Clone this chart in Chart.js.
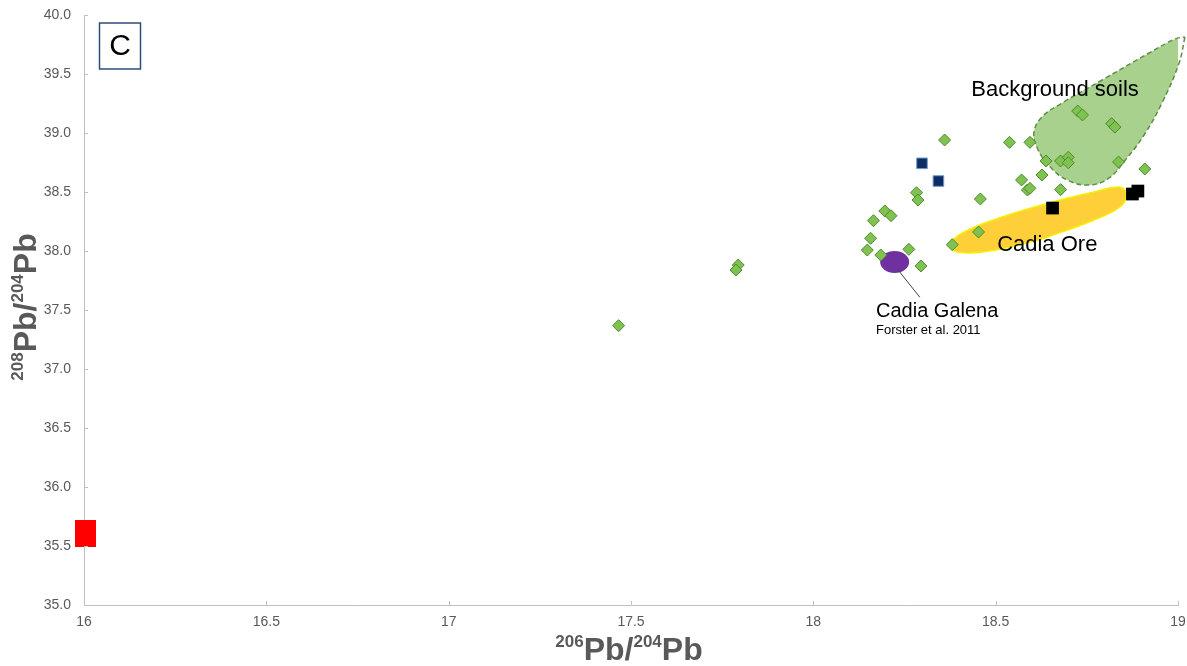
<!DOCTYPE html>
<html>
<head>
<meta charset="utf-8">
<title>208Pb/204Pb vs 206Pb/204Pb</title>
<script src="https://cdn.jsdelivr.net/npm/chart.js"></script>
<style>
  html, body { margin: 0; padding: 0; background: #fff; }
</style>
</head>
<body>
<canvas id="pbChart" width="1187" height="666"></canvas>
<script>
// ------------------------------------------------------------
// data: [206Pb/204Pb, 208Pb/204Pb]
// ------------------------------------------------------------
const soilSamples = [
    [18.360, 38.941], [18.538, 38.921], [18.594, 38.921], [18.818, 39.080],
    [18.827, 39.050], [18.725, 39.186], [18.738, 39.153], [18.638, 38.763],
    [18.678, 38.763], [18.699, 38.794], [18.699, 38.748], [18.837, 38.754],
    [18.909, 38.695], [18.627, 38.644], [18.571, 38.602], [18.587, 38.517],
    [18.594, 38.531], [18.678, 38.520], [18.458, 38.441], [18.283, 38.494],
    [18.287, 38.432], [18.196, 38.339], [18.213, 38.299], [18.165, 38.257],
    [18.453, 38.161], [18.157, 38.108], [18.381, 38.054], [18.148, 38.008],
    [18.185, 37.966], [18.262, 38.014], [18.295, 37.873], [17.794, 37.881],
    [17.788, 37.839], [17.466, 37.367]
];
const navySamples = [[18.298, 38.743], [18.343, 38.593]];
const blackSamples = [[18.656, 38.364], [18.875, 38.483], [18.890, 38.508]];
const redSamples = [[16.005, 35.602]];

// outlined fields
const soilField = [
    [19.019, 39.814], [19.003, 39.593], [18.956, 39.254], [18.907, 38.983],
    [18.860, 38.788], [18.811, 38.619], [18.756, 38.559], [18.696, 38.602],
    [18.647, 38.720], [18.614, 38.873], [18.605, 39.008], [18.627, 39.136],
    [18.682, 39.254], [18.792, 39.449], [18.921, 39.678], [18.992, 39.797],
    [19.019, 39.814]
];
const oreField = [
    [18.619, 38.093], [18.482, 38.000], [18.395, 37.992], [18.373, 38.051],
    [18.414, 38.161], [18.510, 38.280], [18.647, 38.407], [18.770, 38.500],
    [18.838, 38.542], [18.858, 38.492], [18.844, 38.381], [18.770, 38.263],
    [18.619, 38.093]
];
const galena = [18.223, 37.907];

const xRange = [16, 19];
const yRange = [35, 40];

const FONT = "'Liberation Sans', Arial, sans-serif";
const toXY = arr => arr.map(p => ({ x: p[0], y: p[1] }));

// big red marker is taller than wide
const redMarker = document.createElement('canvas');
redMarker.width = 21;
redMarker.height = 27;
(function () {
    const c = redMarker.getContext('2d');
    c.fillStyle = '#ff0000';
    c.fillRect(0, 0, 21, 27);
})();

// rich text with superscripts, centred on x, baseline at y
function drawRich(ctx, parts, x, y) {
    const big = 'bold 32px ' + FONT;
    const small = 'bold 17px ' + FONT;
    let total = 0;
    parts.forEach(p => {
        ctx.font = p.sup ? small : big;
        p.w = ctx.measureText(p.t).width;
        total += p.w;
    });
    let cx = x - total / 2;
    ctx.textAlign = 'left';
    ctx.textBaseline = 'alphabetic';
    parts.forEach(p => {
        ctx.font = p.sup ? small : big;
        ctx.fillText(p.t, cx, p.sup ? y - 13 : y);
        cx += p.w;
    });
}

const annotations = {
    id: 'annotations',
    beforeDatasetsDraw(chart) {
        const { ctx, scales: { x, y } } = chart;
        ctx.save();
        ctx.fillStyle = '#7030a0';
        ctx.beginPath();
        ctx.ellipse(x.getPixelForValue(galena[0]), y.getPixelForValue(galena[1]), 14.5, 11, 0, 0, Math.PI * 2);
        ctx.fill();
        ctx.restore();
    },
    afterDraw(chart) {
        const { ctx, chartArea: area, scales: { x, y } } = chart;
        ctx.save();

        // inward tick marks
        ctx.strokeStyle = '#bfbfbf';
        ctx.lineWidth = 1;
        ctx.beginPath();
        x.ticks.forEach(t => {
            const px = Math.round(x.getPixelForValue(t.value)) + 0.5;
            ctx.moveTo(px, area.bottom);
            ctx.lineTo(px, area.bottom - 4);
        });
        y.ticks.forEach(t => {
            const py = Math.round(y.getPixelForValue(t.value)) + 0.5;
            ctx.moveTo(area.left, py);
            ctx.lineTo(area.left + 4, py);
        });
        ctx.stroke();

        // x tick labels (drawn here so the last one does not shrink the plot)
        ctx.fillStyle = '#595959';
        ctx.font = '14px ' + FONT;
        ctx.textAlign = 'center';
        ctx.textBaseline = 'middle';
        x.ticks.forEach(t => {
            ctx.fillText(String(t.value), x.getPixelForValue(t.value), area.bottom + 17);
        });

        // leader line to galena label
        ctx.strokeStyle = '#404040';
        ctx.beginPath();
        ctx.moveTo(x.getPixelForValue(18.231), y.getPixelForValue(37.845));
        ctx.lineTo(x.getPixelForValue(18.292), y.getPixelForValue(37.608));
        ctx.stroke();

        // field labels
        ctx.fillStyle = '#000';
        ctx.textAlign = 'left';
        ctx.textBaseline = 'alphabetic';
        ctx.font = '22px ' + FONT;
        ctx.fillText('Background soils', x.getPixelForValue(18.433), y.getPixelForValue(39.316));
        ctx.fillText('Cadia Ore', x.getPixelForValue(18.504), y.getPixelForValue(38.003));
        ctx.font = '20px ' + FONT;
        ctx.fillText('Cadia Galena', x.getPixelForValue(18.172), y.getPixelForValue(37.441));
        ctx.font = '13px ' + FONT;
        ctx.fillText('Forster et al. 2011', x.getPixelForValue(18.172), y.getPixelForValue(37.297));

        // panel letter
        ctx.strokeStyle = '#2f4b7c';
        ctx.lineWidth = 1.5;
        ctx.strokeRect(area.left + 15.5, area.top + 8, 41, 46);
        ctx.font = '30px ' + FONT;
        ctx.textAlign = 'center';
        ctx.textBaseline = 'middle';
        ctx.fillText('C', area.left + 36, area.top + 32);

        // axis titles
        ctx.fillStyle = '#595959';
        drawRich(ctx, [{ t: '206', sup: true }, { t: 'Pb' }, { t: '/' }, { t: '204', sup: true }, { t: 'Pb' }],
            (area.left + area.right) / 2 - 2, 660);
        ctx.translate(36, (area.top + area.bottom) / 2 - 3);
        ctx.rotate(-Math.PI / 2);
        drawRich(ctx, [{ t: '208', sup: true }, { t: 'Pb' }, { t: '/' }, { t: '204', sup: true }, { t: 'Pb' }], 0, 0);

        ctx.restore();
    }
};

new Chart(document.getElementById('pbChart'), {
    type: 'scatter',
    data: {
        datasets: [
            {
                label: 'Red',
                data: toXY(redSamples),
                pointStyle: redMarker,
                pointRadius: 12,
                clip: false,
                order: 0
            },
            {
                label: 'Black',
                data: toXY(blackSamples),
                pointStyle: 'rect',
                pointRadius: 9,
                backgroundColor: '#000000',
                borderColor: '#000000',
                borderWidth: 0,
                order: 0
            },
            {
                label: 'Navy',
                data: toXY(navySamples),
                pointStyle: 'rect',
                pointRadius: 7.5,
                backgroundColor: '#0f2d63',
                borderColor: '#6b9bd1',
                borderWidth: 1,
                order: 0
            },
            {
                label: 'Soils',
                data: toXY(soilSamples),
                pointStyle: 'rectRot',
                pointRadius: 6,
                backgroundColor: '#80c252',
                borderColor: '#4e8a2e',
                borderWidth: 1,
                order: 1
            },
            {
                type: 'line',
                label: 'Cadia Ore',
                data: toXY(oreField),
                fill: 'shape',
                tension: 0.4,
                pointRadius: 0,
                backgroundColor: '#ffcf3a',
                borderColor: '#f2f200',
                borderWidth: 1.5,
                order: 2
            },
            {
                type: 'line',
                label: 'Background soils',
                data: toXY(soilField),
                fill: 'shape',
                tension: 0.4,
                pointRadius: 0,
                backgroundColor: '#a9d18e',
                borderColor: '#5f8f45',
                borderWidth: 1.5,
                borderDash: [5, 3],
                clip: false,
                order: 3
            }
        ]
    },
    options: {
        responsive: false,
        animation: false,
        events: [],
        layout: { autoPadding: false, padding: { top: 15, right: 9, left: 0, bottom: 0 } },
        plugins: {
            legend: { display: false },
            tooltip: { enabled: false }
        },
        scales: {
            x: {
                type: 'linear',
                min: xRange[0],
                max: xRange[1],
                afterFit: s => { s.height = 61; },
                border: { display: true, color: '#bfbfbf', width: 1 },
                grid: { display: true, drawOnChartArea: false, drawTicks: false },
                ticks: { stepSize: 0.5, display: false }
            },
            y: {
                type: 'linear',
                min: yRange[0],
                max: yRange[1],
                afterFit: s => {
                    s.width = 84;
                    s.paddingTop = 0;
                    s.paddingBottom = 0;
                },
                border: { display: true, color: '#bfbfbf', width: 1 },
                grid: { display: true, drawOnChartArea: false, drawTicks: false },
                ticks: {
                    stepSize: 0.5,
                    padding: 13,
                    color: '#595959',
                    font: { family: FONT, size: 14 },
                    callback: v => v.toFixed(1)
                }
            }
        }
    },
    plugins: [annotations]
});
</script>
</body>
</html>
